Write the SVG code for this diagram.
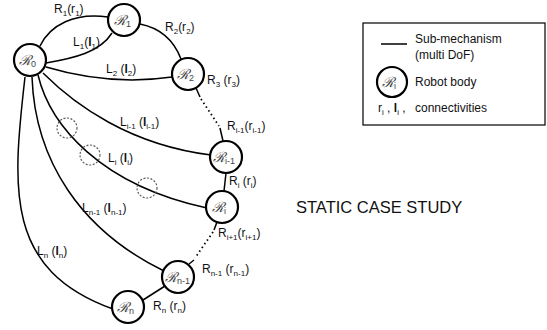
<svg xmlns="http://www.w3.org/2000/svg" width="547" height="330" viewBox="0 0 547 330">
<style>
.t{font-family:"Liberation Sans",Arial,sans-serif;font-size:12px;fill:#111}
.s{font-size:8px}
.b{font-weight:bold}
.nd{fill:#fff;stroke:#000;stroke-width:2.2}
.sym{font-family:"DejaVu Serif","Liberation Serif",serif;font-style:italic;font-size:14px;fill:#444}
.ss{font-family:"Liberation Sans",Arial,sans-serif;font-size:9px;fill:#444;font-style:normal}
.ln{fill:none;stroke:#000;stroke-width:1.5}
.dot{fill:none;stroke:#000;stroke-width:1.8;stroke-dasharray:1.5,3}
.dc{fill:none;stroke:#555;stroke-width:1.1;stroke-dasharray:2,1.6}
.big{font-family:"Liberation Sans",Arial,sans-serif;font-size:16.5px;fill:#111}
</style>
<rect width="547" height="330" fill="#fff"/>
<g id="connectors">
<path class="ln" d="M40,46 C50,25 75,12 108,17"/>
<path class="ln" d="M46,63 C75,58 100,52 112,33"/>
<path class="ln" d="M140,24 Q170,30 181,59"/>
<path class="ln" d="M46,67 Q110,86 172,77"/>
<path class="ln" d="M196,88 L200,97"/>
<path class="dot" d="M201,99 L219,126"/>
<path class="ln" d="M220,128 L223,141"/>
<path class="ln" d="M43,73 C75,105 130,145 211,155"/>
<path class="ln" d="M38,75 C50,125 100,185 207,208"/>
<path class="ln" d="M32,77 C35,160 80,230 164,271"/>
<path class="ln" d="M25,77 C12,190 5,270 113,309"/>
<path class="ln" d="M226,173 L224,191"/>
<path class="ln" d="M217,222 L214,230"/>
<path class="dot" d="M213,232 L195,258"/>
<path class="ln" d="M194,260 L189,264"/>
<path class="ln" d="M165,286 L143,300"/>
</g>
<g id="dashed-circles">
<circle class="dc" cx="67" cy="128" r="10"/>
<circle class="dc" cx="90" cy="155" r="10"/>
<circle class="dc" cx="147" cy="188" r="10"/>
</g>
<g id="labels">
<text class="t" x="54" y="13">R<tspan class="s" dy="3">1</tspan><tspan dy="-3">(r</tspan><tspan class="s" dy="3">1</tspan><tspan dy="-3">)</tspan></text>
<text class="t" x="73" y="46">L<tspan class="s" dy="3">1</tspan><tspan dy="-3">(</tspan><tspan class="b">l</tspan><tspan class="s" dy="3">1</tspan><tspan dy="-3">)</tspan></text>
<text class="t" x="165" y="31">R<tspan class="s" dy="3">2</tspan><tspan dy="-3">(r</tspan><tspan class="s" dy="3">2</tspan><tspan dy="-3">)</tspan></text>
<text class="t" x="106" y="73">L<tspan class="s" dy="3">2</tspan><tspan dy="-3"> (</tspan><tspan class="b">l</tspan><tspan class="s" dy="3">2</tspan><tspan dy="-3">)</tspan></text>
<text class="t" x="207" y="84">R<tspan class="s" dy="3">3</tspan><tspan dy="-3"> (r</tspan><tspan class="s" dy="3">3</tspan><tspan dy="-3">)</tspan></text>
<text class="t" x="120" y="126">L<tspan class="s" dy="3">i-1</tspan><tspan dy="-3"> (</tspan><tspan class="b">l</tspan><tspan class="s" dy="3">i-1</tspan><tspan dy="-3">)</tspan></text>
<text class="t" x="227" y="130">R<tspan class="s" dy="3">i-1</tspan><tspan dy="-3">(r</tspan><tspan class="s" dy="3">i-1</tspan><tspan dy="-3">)</tspan></text>
<text class="t" x="108" y="162">L<tspan class="s" dy="3">i</tspan><tspan dy="-3"> (</tspan><tspan class="b">l</tspan><tspan class="s" dy="3">i</tspan><tspan dy="-3">)</tspan></text>
<text class="t" x="229" y="185">R<tspan class="s" dy="3">i</tspan><tspan dy="-3"> (r</tspan><tspan class="s" dy="3">i</tspan><tspan dy="-3">)</tspan></text>
<text class="t" x="82" y="212">L<tspan class="s" dy="3">n-1</tspan><tspan dy="-3"> (</tspan><tspan class="b">l</tspan><tspan class="s" dy="3">n-1</tspan><tspan dy="-3">)</tspan></text>
<text class="t" x="218" y="237">R<tspan class="s" dy="3">i+1</tspan><tspan dy="-3">(r</tspan><tspan class="s" dy="3">i+1</tspan><tspan dy="-3">)</tspan></text>
<text class="t" x="37" y="255">L<tspan class="s" dy="3">n</tspan><tspan dy="-3"> (</tspan><tspan class="b">l</tspan><tspan class="s" dy="3">n</tspan><tspan dy="-3">)</tspan></text>
<text class="t" x="202" y="273">R<tspan class="s" dy="3">n-1</tspan><tspan dy="-3"> (r</tspan><tspan class="s" dy="3">n-1</tspan><tspan dy="-3">)</tspan></text>
<text class="t" x="153" y="310">R<tspan class="s" dy="3">n</tspan><tspan dy="-3"> (r</tspan><tspan class="s" dy="3">n</tspan><tspan dy="-3">)</tspan></text>
</g>
<g id="node-R0"><circle class="nd" cx="30" cy="60" r="16"/><text class="sym" x="19" y="65">ℛ<tspan class="ss" dy="2">0</tspan></text></g>
<g id="node-R1"><circle class="nd" cx="124" cy="20" r="16"/><text class="sym" x="114" y="25">ℛ<tspan class="ss" dy="2">1</tspan></text></g>
<g id="node-R2"><circle class="nd" cx="188" cy="74" r="16"/><text class="sym" x="177" y="79">ℛ<tspan class="ss" dy="2">2</tspan></text></g>
<g id="node-Ri-1"><circle class="nd" cx="226" cy="157" r="16"/><text class="sym" x="213" y="162">ℛ<tspan class="ss" dy="2">i-1</tspan></text></g>
<g id="node-Ri"><circle class="nd" cx="222" cy="207" r="16"/><text class="sym" x="212" y="212">ℛ<tspan class="ss" dy="2">i</tspan></text></g>
<g id="node-Rn-1"><circle class="nd" cx="178" cy="277" r="16"/><text class="sym" x="165" y="282">ℛ<tspan class="ss" dy="2">n-1</tspan></text></g>
<g id="node-Rn"><circle class="nd" cx="128" cy="307" r="16"/><text class="sym" x="117" y="312">ℛ<tspan class="ss" dy="2">n</tspan></text></g>
<g id="title"><text class="big" x="296" y="213">STATIC CASE STUDY</text></g>
<g id="legend">
<rect x="363" y="23" width="182" height="102" fill="#fff" stroke="#000" stroke-width="1.2"/>
<line x1="381" y1="44" x2="407" y2="44" stroke="#000" stroke-width="1.5"/>
<text class="t" x="415" y="43">Sub-mechanism</text>
<text class="t" x="415" y="59">(multi DoF)</text>
<circle class="nd" cx="392" cy="82" r="15"/>
<text class="sym" x="382" y="87">ℛ<tspan class="ss" dy="2">i</tspan></text>
<text class="t" x="415" y="86">Robot body</text>
<text class="t" x="378" y="112">r<tspan class="s" dy="3">i</tspan><tspan dy="-3"> , </tspan><tspan class="b">l</tspan><tspan class="s" dy="3">i</tspan><tspan dy="-3"> ,</tspan></text>
<text class="t" x="415" y="112">connectivities</text>
</g>
</svg>
